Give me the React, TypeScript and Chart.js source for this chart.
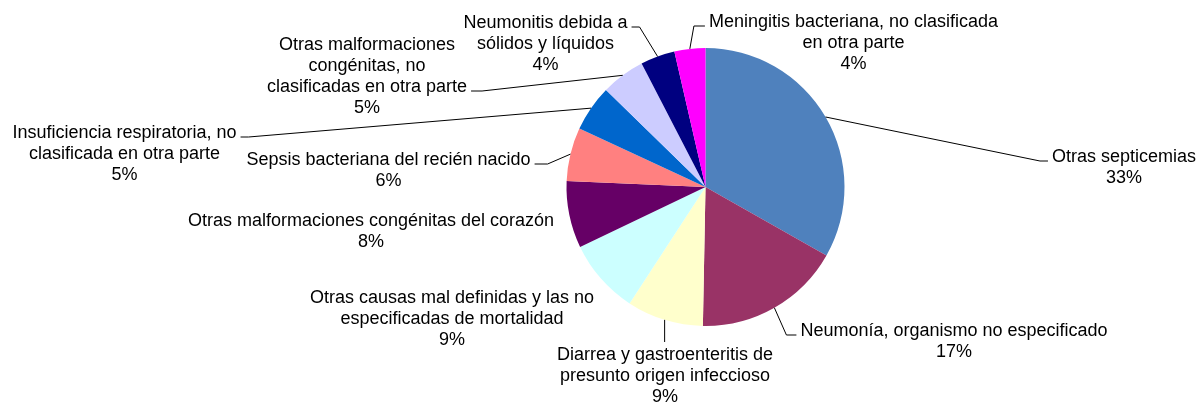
import React, { useEffect, useRef } from "react";
import { Chart, registerables } from "chart.js";

Chart.register(...registerables);

const CATEGORIES: string[] = [
  "Otras septicemias",
  "Neumonía, organismo no especificado",
  "Diarrea y gastroenteritis de\npresunto origen infeccioso",
  "Otras causas mal definidas y las no\nespecificadas de mortalidad",
  "Otras malformaciones congénitas del corazón",
  "Sepsis bacteriana del recién nacido",
  "Insuficiencia respiratoria, no\nclasificada en otra parte",
  "Otras malformaciones\ncongénitas, no\nclasificadas en otra parte",
  "Neumonitis debida a\nsólidos y líquidos",
  "Meningitis bacteriana, no clasificada\nen otra parte",
];

const VALUES: number[] = [33.2, 17.1, 8.9, 8.7, 7.8, 6.2, 5.4, 5.1, 4.0, 3.6];

const COLORS: string[] = [
  "#4F81BD",
  "#993366",
  "#FFFFCC",
  "#CCFFFF",
  "#660066",
  "#FF8080",
  "#0066CC",
  "#CCCCFF",
  "#000080",
  "#FF00FF",
];

// Label block placement relative to the pie centre (first line centre), and leader style
type Side = "left" | "right" | "top" | "none";
const LABEL_LAYOUT: { dx: number; dy: number; side: Side; line: number; elbow: number }[] = [
  { dx: 418.5, dy: -30, side: "left", line: 0, elbow: 8 },
  { dx: 248.5, dy: 144, side: "left", line: 0, elbow: 10 },
  { dx: -40.5, dy: 168, side: "top", line: 0, elbow: 0 },
  { dx: -253.5, dy: 111, side: "none", line: 0, elbow: 0 },
  { dx: -334.5, dy: 34, side: "none", line: 0, elbow: 0 },
  { dx: -317, dy: -27, side: "right", line: 0, elbow: 13 },
  { dx: -581, dy: -54, side: "right", line: 0, elbow: 8 },
  { dx: -338.5, dy: -142, side: "right", line: 2, elbow: 11 },
  { dx: -160, dy: -164, side: "right", line: 0, elbow: 8 },
  { dx: 148, dy: -165, side: "left", line: 0, elbow: 11 },
];

const FONT_FAMILY = '"Liberation Sans", Arial, sans-serif';
const FONT_SIZE = 18;
const LINE_HEIGHT = 21;

const labelPlugin = {
  id: "pieLabels",
  afterDraw(chart: any) {
    const ctx = chart.ctx as CanvasRenderingContext2D;
    const meta = chart.getDatasetMeta(0);
    const data: number[] = chart.data.datasets[0].data;
    const total = data.reduce((a, b) => a + b, 0);
    ctx.save();
    ctx.font = `${FONT_SIZE}px ${FONT_FAMILY}`;
    ctx.textAlign = "center";
    ctx.textBaseline = "middle";
    ctx.strokeStyle = "#000000";
    ctx.fillStyle = "#000000";
    ctx.lineWidth = 1;
    meta.data.forEach((arc: any, i: number) => {
      const p = arc.getProps(["x", "y", "startAngle", "endAngle", "outerRadius"], true);
      const mid = (p.startAngle + p.endAngle) / 2;
      const ex = p.x + Math.cos(mid) * p.outerRadius;
      const ey = p.y + Math.sin(mid) * p.outerRadius;
      const L = LABEL_LAYOUT[i];
      const pct = Math.round((data[i] / total) * 100) + "%";
      const lines = [...CATEGORIES[i].split("\n"), pct];
      const tx = p.x + L.dx;
      const ty = p.y + L.dy;

      if (L.side !== "none") {
        ctx.beginPath();
        ctx.moveTo(ex, ey);
        if (L.side === "top") {
          ctx.lineTo(ex, ty - 13);
        } else {
          const w = ctx.measureText(lines[L.line]).width;
          const ly = ty + L.line * LINE_HEIGHT + 4;
          if (L.side === "left") {
            const ax = tx - w / 2 - 4;
            ctx.lineTo(ax - L.elbow, ly);
            ctx.lineTo(ax, ly);
          } else {
            const ax = tx + w / 2 + 4;
            ctx.lineTo(ax + L.elbow, ly);
            ctx.lineTo(ax, ly);
          }
        }
        ctx.stroke();
      }

      lines.forEach((s, k) => {
        ctx.fillText(s, tx, ty + k * LINE_HEIGHT);
      });
    });
    ctx.restore();
  },
};

export default function App() {
  const ref = useRef<HTMLCanvasElement | null>(null);
  useEffect(() => {
    document.body.style.margin = "0";
    if (!ref.current) return;
    const chart = new Chart(ref.current, {
      type: "pie",
      data: {
        labels: CATEGORIES,
        datasets: [
          {
            data: VALUES,
            backgroundColor: COLORS,
            borderWidth: 0,
          },
        ],
      },
      options: {
        animation: false,
        responsive: false,
        layout: { padding: { left: 566, right: 358, top: 48, bottom: 78 } },
        plugins: {
          legend: { display: false },
          tooltip: { enabled: false },
        },
      },
      plugins: [labelPlugin],
    });
    return () => chart.destroy();
  }, []);
  return (
    <div style={{ position: "fixed", left: 0, top: 0, width: 1203, height: 404, background: "#fff" }}>
      <canvas ref={ref} width={1203} height={404} />
    </div>
  );
}
